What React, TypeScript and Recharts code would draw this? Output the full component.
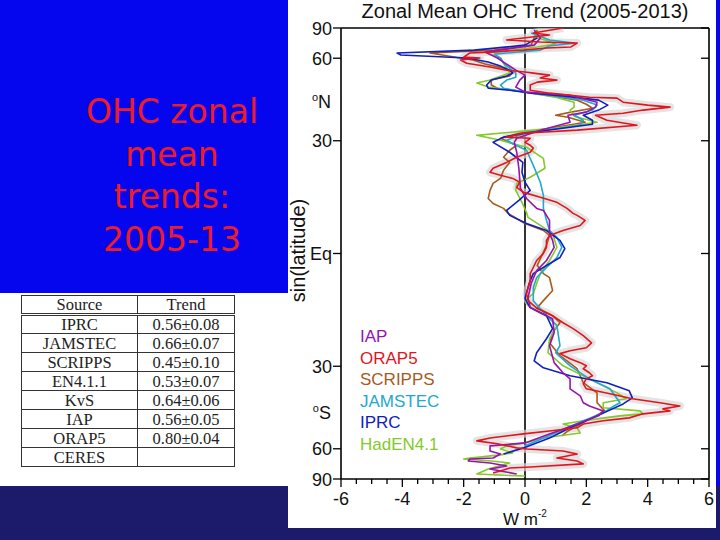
import React from 'react';
import { ScatterChart, Scatter, XAxis, YAxis, ReferenceLine, Legend } from 'recharts';

// ---- data: y = sin(latitude), x = trend (W m-2) ----
const orap5SinLat = [1.0, 0.978, 0.969, 0.947, 0.938, 0.933, 0.916, 0.911, 0.902, 0.893, 0.889, 0.871, 0.867, 0.858, 0.844, 0.827, 0.813, 0.804, 0.8, 0.791, 0.778, 0.769, 0.76, 0.747, 0.724, 0.711, 0.693, 0.689, 0.671, 0.658, 0.649, 0.636, 0.622, 0.613, 0.591, 0.569, 0.547, 0.533, 0.516, 0.511, 0.493, 0.48, 0.467, 0.449, 0.427, 0.404, 0.378, 0.36, 0.347, 0.333, 0.316, 0.293, 0.271, 0.249, 0.227, 0.2, 0.178, 0.169, 0.147, 0.124, 0.102, 0.08, 0.058, 0.027, 0.0, -0.031, -0.062, -0.089, -0.12, -0.151, -0.178, -0.209, -0.244, -0.276, -0.307, -0.333, -0.364, -0.396, -0.418, -0.431, -0.444, -0.467, -0.484, -0.498, -0.511, -0.529, -0.542, -0.556, -0.578, -0.6, -0.622, -0.644, -0.662, -0.676, -0.689, -0.698, -0.711, -0.729, -0.742, -0.756, -0.773, -0.787, -0.8, -0.818, -0.831, -0.844, -0.862, -0.867, -0.876, -0.889, -0.907, -0.92, -0.933, -0.947, -0.951, -0.96, -0.973];
const orap5Trend = [1.24, 0.27, 0.8, -0.6, 0.5, 1.7, 1.5, 0.7, -0.05, -1.14, -1.8, -2.0, -1.47, -2.1, -1.9, -1.14, -0.6, 0.07, 0.27, 0.8, 0.5, 1.04, 0.4, 0.17, 0.17, 0.8, 2.1, 3.0, 3.2, 4.0, 4.73, 3.85, 3.2, 2.3, 2.67, 3.65, 1.7, -0.07, -0.6, 0.17, 0.0, 0.17, 0.27, 0.17, -0.27, -0.6, -1.04, -1.14, -0.8, -0.4, -0.17, -0.27, -0.05, 0.5, 1.04, 1.37, 1.57, 1.7, 1.96, 1.8, 1.24, 0.8, 0.7, 0.7, 0.6, 0.38, 0.27, 0.17, 0.17, 0.1, 0.05, 0.1, 0.4, 0.9, 1.24, 1.57, 1.9, 2.17, 2.0, 1.47, 1.14, 1.47, 1.8, 2.0, 1.9, 2.1, 2.2, 2.0, 1.9, 2.0, 2.77, 3.5, 4.4, 5.05, 4.5, 4.73, 3.85, 3.4, 2.55, 1.9, 1.7, 0.8, -0.05, -1.14, -1.57, -0.9, -0.27, 0.07, 1.24, 1.7, 1.04, 1.7, 1.9, 0.17, -0.5, -0.7, -1.04];

const iprcSinLat = [0.956, 0.924, 0.902, 0.889, 0.88, 0.867, 0.849, 0.831, 0.813, 0.8, 0.787, 0.769, 0.747, 0.733, 0.724, 0.711, 0.698, 0.68, 0.658, 0.636, 0.613, 0.591, 0.573, 0.533, 0.516, 0.493, 0.449, 0.404, 0.36, 0.316, 0.28, 0.236, 0.191, 0.169, 0.133, 0.102, 0.058, 0.022, -0.018, -0.053, -0.089, -0.12, -0.164, -0.2, -0.24, -0.276, -0.333, -0.378, -0.44, -0.476, -0.507, -0.542, -0.573, -0.609, -0.64, -0.667, -0.72, -0.773, -0.818, -0.862, -0.889];
const iprcTrend = [0.4, 0.0, -1.65, -4.17, -4.05, -1.9, -1.2, -0.8, -0.5, -0.4, -0.6, -1.1, -1.25, -1.2, -0.5, 0.2, 1.3, 2.4, 2.7, 2.4, 1.9, 2.2, 2.2, 0.0, -0.7, -1.04, -0.5, -0.07, -0.1, 0.0, 0.17, -0.2, -0.6, -0.5, 0.05, 0.7, 1.14, 1.3, 1.14, 0.7, 0.27, 0.17, 0.07, 0.0, 0.17, 0.7, 0.9, 0.7, 0.38, 0.3, 0.6, 1.47, 2.67, 3.4, 3.5, 3.2, 2.35, 1.47, 0.8, -0.05, -0.7];

const scrippsSinLat = [0.991, 0.956, 0.924, 0.902, 0.889, 0.876, 0.858, 0.84, 0.822, 0.804, 0.787, 0.769, 0.747, 0.733, 0.716, 0.698, 0.68, 0.662, 0.644, 0.627, 0.613, 0.604, 0.582, 0.56, 0.533, 0.511, 0.48, 0.458, 0.427, 0.404, 0.369, 0.333, 0.311, 0.28, 0.244, 0.222, 0.2, 0.178, 0.133, 0.102, 0.08, 0.036, -0.009, -0.053, -0.089, -0.107, -0.164, -0.209, -0.24, -0.276, -0.307, -0.351, -0.396, -0.453, -0.511, -0.573, -0.618, -0.662, -0.698, -0.742, -0.787, -0.809];
const scrippsTrend = [0.4, 0.3, 0.2, -1.0, -3.1, -2.5, -1.7, -1.3, -0.7, -0.4, -0.5, -1.1, -1.1, -0.9, 0.0, 0.9, 1.7, 2.0, 2.2, 1.5, 1.0, 1.4, 1.96, 1.0, -0.2, -0.8, -0.27, -0.5, -0.7, -0.5, -0.7, -0.8, -1.04, -1.14, -1.2, -1.04, -0.7, -0.55, 0.0, 0.6, 0.8, 0.7, 0.55, 0.4, 0.6, 0.8, 0.9, 0.6, 0.4, 0.9, 1.14, 0.9, 0.8, 1.14, 1.7, 1.9, 2.35, 2.35, 2.6, 2.0, 1.4, 1.2];

const jamstecSinLat = [0.978, 0.947, 0.933, 0.92, 0.902, 0.884, 0.867, 0.844, 0.822, 0.8, 0.782, 0.769, 0.747, 0.733, 0.716, 0.698, 0.68, 0.658, 0.636, 0.613, 0.591, 0.569, 0.533, 0.502, 0.48, 0.458, 0.391, 0.316, 0.258, 0.2, 0.147, 0.102, 0.071, 0.027, -0.018, -0.062, -0.107, -0.151, -0.209, -0.231, -0.32, -0.409, -0.44, -0.498, -0.556, -0.6, -0.662, -0.676, -0.707, -0.742, -0.787, -0.831, -0.853];
const jamstecTrend = [0.2, 0.8, 1.6, 0.8, 0.5, -1.0, -0.8, -0.7, -0.5, -0.3, -0.3, -0.6, -0.8, -0.7, 0.0, 1.0, 1.9, 2.35, 2.2, 1.6, 1.9, 1.8, 0.0, -0.6, -0.3, 0.05, 0.27, 0.5, 0.6, 0.6, 0.7, 0.8, 1.04, 1.2, 1.04, 0.7, 0.38, 0.27, 0.27, 0.4, 1.04, 1.14, 1.0, 1.47, 2.1, 2.77, 3.1, 2.9, 2.55, 1.9, 1.14, 0.38, 0.0];

const iapSinLat = [0.991, 0.956, 0.924, 0.893, 0.867, 0.84, 0.813, 0.791, 0.769, 0.738, 0.716, 0.702, 0.671, 0.649, 0.627, 0.613, 0.582, 0.547, 0.511, 0.493, 0.449, 0.378, 0.289, 0.244, 0.2, 0.191, 0.147, 0.089, 0.058, 0.027, -0.031, -0.076, -0.133, -0.196, -0.24, -0.289, -0.351, -0.409, -0.484, -0.529, -0.556, -0.6, -0.631, -0.662, -0.676, -0.698, -0.72, -0.756, -0.8, -0.84, -0.853, -0.876, -0.889, -0.907, -0.911, -0.92, -0.929, -0.942, -0.956, -0.978];
const iapTrend = [0.3, 0.5, 0.3, -1.3, -0.9, -0.6, -0.3, 0.0, -0.17, -0.3, 0.0, 1.47, 2.35, 2.3, 2.0, 1.4, 1.47, 0.5, -0.27, -0.35, -0.27, -0.2, -0.15, 0.05, 0.38, 0.6, 0.8, 0.8, 0.9, 0.95, 0.7, 0.38, 0.2, 0.1, 0.17, 0.9, 0.95, 0.8, 0.95, 1.24, 1.47, 1.47, 1.8, 1.9, 2.1, 2.55, 2.4, 1.7, 0.8, 0.0, -1.14, -1.14, -0.8, -1.04, -1.8, -1.85, -1.14, -0.6, -1.14, -0.27];

const hadSinLat = [0.982, 0.96, 0.947, 0.929, 0.916, 0.889, 0.867, 0.844, 0.822, 0.8, 0.782, 0.769, 0.756, 0.738, 0.716, 0.693, 0.671, 0.649, 0.636, 0.609, 0.582, 0.556, 0.524, 0.502, 0.471, 0.422, 0.378, 0.338, 0.311, 0.28, 0.227, 0.182, 0.16, 0.116, 0.089, 0.027, -0.031, -0.089, -0.133, -0.178, -0.209, -0.231, -0.276, -0.32, -0.378, -0.44, -0.498, -0.556, -0.618, -0.644, -0.662, -0.684, -0.698, -0.711, -0.72, -0.742, -0.756, -0.773, -0.796, -0.818, -0.84, -0.853, -0.867, -0.884, -0.893, -0.907, -0.911, -0.92, -0.929, -0.956, -0.978, -0.987];
const hadTrend = [0.4, 0.3, 0.65, 1.0, 0.4, -1.24, -0.8, -0.7, -0.6, -0.5, -0.9, -1.14, -1.57, -1.2, 0.0, 1.0, 1.6, 1.6, 1.47, 1.6, 2.35, 1.0, -1.57, -0.8, 0.05, 0.6, 0.65, 0.17, -0.27, -0.3, -0.1, 0.05, 0.1, 0.6, 0.9, 1.04, 0.8, 0.5, 0.38, 0.27, 0.0, 0.1, 0.7, 1.04, 0.8, 0.75, 1.24, 2.1, 3.0, 3.3, 2.55, 2.55, 3.75, 3.85, 3.1, 1.9, 1.24, 1.7, 1.8, 0.6, 0.0, -0.6, -0.8, -0.4, -0.8, -1.8, -2.0, -1.1, -0.5, -1.2, -1.57, 0.0];

const legendNames = ['IAP', 'ORAP5', 'SCRIPPS', 'JAMSTEC', 'IPRC', 'HadEN4.1'];

const xMajorTicks = [-6, -4, -2, 0, 2, 4, 6];
const xAllTicks = [-6, -5.5, -5, -4.5, -4, -3.5, -3, -2.5, -2, -1.5, -1, -0.5, 0, 0.5, 1, 1.5, 2, 2.5, 3, 3.5, 4, 4.5, 5, 5.5, 6];
const yTickValues = [1, 0.866, 0.671, 0.5, 0, -0.5, -0.707, -0.866, -1];
const yTickLabels = ['90', '60', 'ºN', '30', 'Eq', '30', 'ºS', '60', '90'];

const tableSources = ['IPRC', 'JAMSTEC', 'SCRIPPS', 'EN4.1.1', 'KvS', 'IAP', 'ORAP5', 'CERES'];
const tableTrends = ['0.56±0.08', '0.66±0.07', '0.45±0.10', '0.53±0.07', '0.64±0.06', '0.56±0.05', '0.80±0.04', ''];

// ---- styles ----
const COLORS: Record<string, string> = {
  IAP: '#9812b0',
  ORAP5: '#e3141c',
  SCRIPPS: '#a85a1c',
  JAMSTEC: '#22a8d0',
  IPRC: '#1020c0',
  'HadEN4.1': '#84c92a',
};
const SANS = '"Liberation Sans", Arial, sans-serif';

const toPoints = (lat: number[], val: number[]) => lat.map((s, i) => ({ x: val[i], y: s }));

const noShape = () => <g />;

const BottomTick = (props: any) => {
  const { x, y, payload } = props;
  const v = payload.value;
  const major = xMajorTicks.includes(v);
  return (
    <g>
      <line x1={x} y1={y} x2={x} y2={y + (major ? 8 : 5)} stroke="#000" strokeWidth={1.3} />
      {major && (
        <text x={x} y={y + 26} textAnchor="middle" fontSize={18} fontFamily={SANS} fill="#111">
          {String(v)}
        </text>
      )}
    </g>
  );
};

const TopTick = (props: any) => {
  const { x, y, payload } = props;
  const major = xMajorTicks.includes(payload.value);
  return <line x1={x} y1={y} x2={x} y2={y - (major ? 8 : 5)} stroke="#000" strokeWidth={1.3} />;
};

const LeftTick = (props: any) => {
  const { x, y, payload } = props;
  const idx = yTickValues.indexOf(payload.value);
  const label = yTickLabels[idx] ?? '';
  const isHemi = label.startsWith('º');
  return (
    <g>
      {!isHemi && <line x1={x - 8} y1={y} x2={x} y2={y} stroke="#000" strokeWidth={1.3} />}
      {isHemi ? (
        <text x={x - 10} y={y + 6} textAnchor="end" fontSize={18} fontFamily={SANS} fill="#111">
          <tspan fontSize={11} dy={-7}>o</tspan>
          <tspan dy={7}>{label.slice(1)}</tspan>
        </text>
      ) : (
        <text x={x - 9} y={y + 6.5} textAnchor="end" fontSize={18} fontFamily={SANS} fill="#111">
          {label}
        </text>
      )}
    </g>
  );
};

const RightTick = (props: any) => {
  const { x, y, payload } = props;
  const idx = yTickValues.indexOf(payload.value);
  const label = yTickLabels[idx] ?? '';
  if (label.startsWith('º')) return <g />;
  return <line x1={x} y1={y} x2={x - 8} y2={y} stroke="#000" strokeWidth={1.3} />;
};

const renderLegend = () => (
  <div style={{ fontFamily: SANS, fontSize: 17, lineHeight: '21.5px' }}>
    {legendNames.map((n) => (
      <div key={n} style={{ color: COLORS[n] }}>{n}</div>
    ))}
  </div>
);

const series = [
  { name: 'SCRIPPS', lat: scrippsSinLat, val: scrippsTrend },
  { name: 'HadEN4.1', lat: hadSinLat, val: hadTrend },
  { name: 'JAMSTEC', lat: jamstecSinLat, val: jamstecTrend },
  { name: 'IPRC', lat: iprcSinLat, val: iprcTrend },
  { name: 'IAP', lat: iapSinLat, val: iapTrend },
  { name: 'ORAP5', lat: orap5SinLat, val: orap5Trend },
];

const cellStyle: React.CSSProperties = { border: '1.6px solid #333', padding: 0, lineHeight: '17px' };

export default function App() {
  return (
    <div style={{ position: 'fixed', left: 0, top: 0, width: 720, height: 540, background: '#0606ee', overflow: 'hidden' }}>
      {/* left white area for table */}
      <div style={{ position: 'absolute', left: 0, top: 293, width: 288, height: 193, background: '#fff' }} />
      {/* bottom navy band */}
      <div style={{ position: 'absolute', left: 0, top: 486, width: 720, height: 54, background: '#1b1a6b' }} />
      {/* slide title */}
      <div
        style={{
          position: 'absolute', left: 60, top: 91, width: 224, textAlign: 'center',
          color: '#ee1c25', fontFamily: '"DejaVu Sans", sans-serif', fontSize: 33, lineHeight: '42.7px',
        }}
      >
        OHC zonal<br />mean<br />trends:<br />2005-13
      </div>
      {/* table */}
      <table
        style={{
          position: 'absolute', left: 21, top: 295, width: 213, borderCollapse: 'collapse',
          fontFamily: '"Liberation Serif", "Times New Roman", serif', fontSize: 16.5, color: '#222',
          textAlign: 'center', tableLayout: 'fixed',
        }}
      >
        <colgroup>
          <col style={{ width: 116 }} />
          <col style={{ width: 97 }} />
        </colgroup>
        <thead>
          <tr style={{ height: 19 }}>
            <th style={{ ...cellStyle, fontWeight: 'normal', borderBottom: '3.5px double #333' }}>Source</th>
            <th style={{ ...cellStyle, fontWeight: 'normal', borderBottom: '3.5px double #333' }}>Trend</th>
          </tr>
        </thead>
        <tbody>
          {tableSources.map((s, i) => (
            <tr key={s} style={{ height: 19 }}>
              <td style={cellStyle}>{s}</td>
              <td style={cellStyle}>{tableTrends[i]}</td>
            </tr>
          ))}
        </tbody>
      </table>
      {/* chart panel */}
      <div style={{ position: 'absolute', left: 288, top: 0, width: 428, height: 528, background: '#fff' }}>
        <div
          style={{
            position: 'absolute', left: 37, top: 0, width: 400, textAlign: 'center',
            fontFamily: SANS, fontSize: 20, lineHeight: '22px', color: '#111',
          }}
        >
          Zonal Mean OHC Trend (2005-2013)
        </div>
        <ScatterChart width={428} height={528} margin={{ top: 0, right: 0, bottom: 0, left: 0 }}>
          <XAxis
            xAxisId="b" type="number" dataKey="x" domain={[-6, 6]} ticks={xAllTicks} interval={0}
            orientation="bottom" height={49} tickSize={0} tickMargin={0} tick={<BottomTick />}
            axisLine={{ stroke: '#000', strokeWidth: 1.6 }} allowDataOverflow
            label={{
              content: (p: any) => {
                const vb = p.viewBox || { x: 53, y: 479, width: 368, height: 49 };
                return (
                  <text x={vb.x + vb.width / 2} y={vb.y + 46} textAnchor="middle" fontSize={17} fontFamily={SANS} fill="#111">
                    W m<tspan fontSize={10} dy={-8}>-2</tspan>
                  </text>
                );
              },
            }}
          />
          <XAxis
            xAxisId="t" type="number" domain={[-6, 6]} ticks={xAllTicks} interval={0}
            orientation="top" height={28} tickSize={0} tickMargin={0} tick={<TopTick />}
            axisLine={{ stroke: '#000', strokeWidth: 1.6 }} allowDataOverflow
          />
          <YAxis
            yAxisId="l" type="number" dataKey="y" domain={[-1, 1]} ticks={yTickValues} interval={0}
            orientation="left" width={53} tickSize={0} tickMargin={0} tick={<LeftTick />}
            axisLine={{ stroke: '#000', strokeWidth: 1.6 }} allowDataOverflow
            label={{
              content: (p: any) => {
                const vb = p.viewBox || { x: 0, y: 28, width: 53, height: 451 };
                const cx = 10;
                const cy = vb.y + vb.height / 2 - 3;
                return (
                  <text x={cx} y={cy} transform={`rotate(-90, ${cx}, ${cy})`} textAnchor="middle" dominantBaseline="central"
                    fontSize={20} fontFamily={SANS} fill="#111">
                    sin(latitude)
                  </text>
                );
              },
            }}
          />
          <YAxis
            yAxisId="r" type="number" domain={[-1, 1]} ticks={yTickValues} interval={0}
            orientation="right" width={7} tickSize={0} tickMargin={0} tick={<RightTick />}
            axisLine={{ stroke: '#000', strokeWidth: 1.6 }} allowDataOverflow
          />
          <Scatter
            xAxisId="b" yAxisId="l" data={toPoints(orap5SinLat, orap5Trend)} fill="#dadada"
            line={{ stroke: '#d8d8d8', strokeWidth: 8, strokeLinejoin: 'round', strokeOpacity: 0.7 }}
            shape={noShape} isAnimationActive={false} legendType="none"
          />
          <ReferenceLine xAxisId="b" yAxisId="l" x={0} stroke="#000" strokeWidth={1.6} />
          {series.map((s) => (
            <Scatter
              key={s.name} name={s.name} xAxisId="b" yAxisId="l" data={toPoints(s.lat, s.val)} fill={COLORS[s.name]}
              line={{ stroke: COLORS[s.name], strokeWidth: 1.6, strokeLinejoin: 'round' }}
              shape={noShape} isAnimationActive={false}
            />
          ))}
          <Legend
            layout="vertical" align="center" verticalAlign="middle" content={renderLegend}
            wrapperStyle={{ left: 72, top: 326, width: 120, height: 130 }}
          />
        </ScatterChart>
      </div>
    </div>
  );
}
